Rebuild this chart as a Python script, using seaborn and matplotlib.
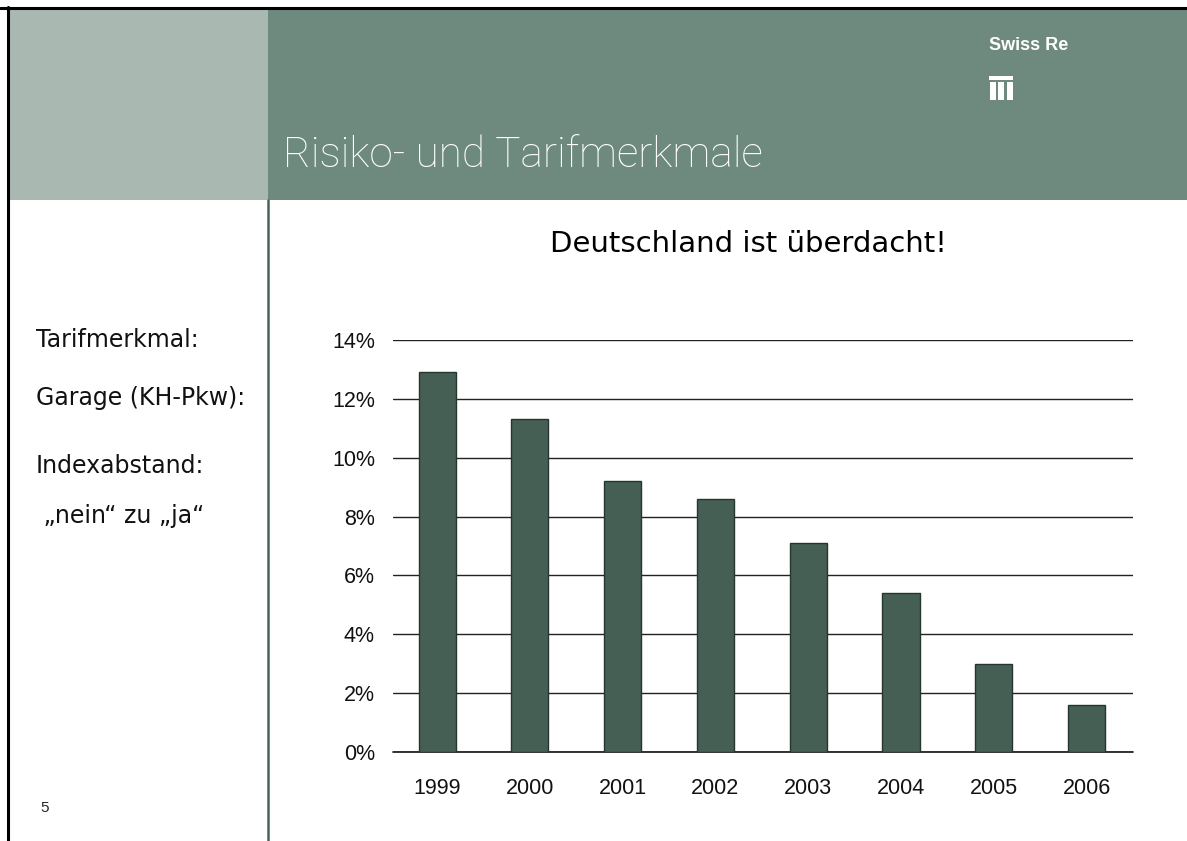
import matplotlib
matplotlib.use("Agg")
import matplotlib.pyplot as plt
from matplotlib.patches import Rectangle
from matplotlib.lines import Line2D
from matplotlib.ticker import FuncFormatter
import seaborn as sns
import pandas as pd

years = ["1999", "2000", "2001", "2002", "2003", "2004", "2005", "2006"]
index_gap = [12.9, 11.3, 9.2, 8.6, 7.1, 5.4, 3.0, 1.6]
y_ticks = [0, 2, 4, 6, 8, 10, 12, 14]
side_labels = ["Tarifmerkmal:", "Garage (KH-Pkw):", "Indexabstand:", " \u201enein\u201c zu \u201eja\u201c"]

df = pd.DataFrame({"year": years, "value": index_gap})

sns.set_theme(style="white")
plt.rcParams["font.family"] = ["Liberation Sans", "DejaVu Sans"]

W, H = 1187, 841
fig = plt.figure(figsize=(W / 100, H / 100), dpi=100)


def fx(px):
    return px / W


def fy(py):
    return 1 - py / H


# header blocks
fig.patches.append(Rectangle((fx(8), fy(200)), fx(260), 192 / H, transform=fig.transFigure,
                             facecolor="#a9b8b1", edgecolor="none", zorder=0))
fig.patches.append(Rectangle((fx(268), fy(200)), fx(W - 268), 192 / H, transform=fig.transFigure,
                             facecolor="#6e8a7e", edgecolor="none", zorder=0))
# frame lines and divider
fig.lines.append(Line2D([fx(0), fx(W)], [fy(7.5), fy(7.5)], transform=fig.transFigure, color="black", lw=2.2))
fig.lines.append(Line2D([fx(7.5), fx(7.5)], [fy(6.5), fy(H)], transform=fig.transFigure, color="black", lw=2.2))
fig.lines.append(Line2D([fx(267.5), fx(267.5)], [fy(200), fy(H)], transform=fig.transFigure, color="#4a6358", lw=1.8))

# Swiss Re logo
fig.text(fx(989), fy(45), "Swiss Re", color="white", fontsize=13, fontweight="bold", va="center", ha="left")
fig.patches.append(Rectangle((fx(989), fy(79.5)), fx(24), 3.5 / H, transform=fig.transFigure,
                             facecolor="white", edgecolor="none"))
for bx in [989.5, 998, 1006.5]:
    fig.patches.append(Rectangle((fx(bx), fy(100)), fx(6), 18 / H, transform=fig.transFigure,
                                 facecolor="white", edgecolor="none"))

fig.text(fx(283), fy(155), "Risiko- und Tarifmerkmale", color="white", fontsize=30.5,
         family=["Roboto", "Liberation Sans"], fontweight="light", va="center", ha="left")
fig.text(fx(748), fy(244), "Deutschland ist überdacht!", color="black", fontsize=21,
         family=["DejaVu Sans"], va="center", ha="center")

for lab, py in zip(side_labels, [340, 398, 466, 516]):
    fig.text(fx(36), fy(py), lab, fontsize=17, family=["DejaVu Sans"], va="center", ha="left", color="#111111")
fig.text(fx(40), fy(808), "5", fontsize=11, va="center", ha="left")

ax = fig.add_axes([fx(393), fy(752), fx(1133 - 393), (752 - 340) / H])
sns.barplot(data=df, x="year", y="value", color="#465f55", saturation=1, width=0.4,
            edgecolor="#26352f", linewidth=1, ax=ax)
ax.set_ylim(0, 14)
ax.set_xlim(-0.475, 7.5)
ax.set_yticks(y_ticks)
ax.yaxis.set_major_formatter(FuncFormatter(lambda v, p: f"{v:.0f}%"))
ax.yaxis.grid(True, color="#222222", lw=1)
ax.axhline(0, color="#111111", lw=1.2, clip_on=False, zorder=0.5)
ax.set_axisbelow(True)
for s in ax.spines.values():
    s.set_visible(False)
ax.tick_params(axis="both", length=0, labelsize=15.5, colors="#111111")
ax.tick_params(axis="y", pad=13)
ax.tick_params(axis="x", pad=18.5)
ax.set_xlabel("")
ax.set_ylabel("")

fig.savefig("out.png", dpi=100, facecolor="white")
